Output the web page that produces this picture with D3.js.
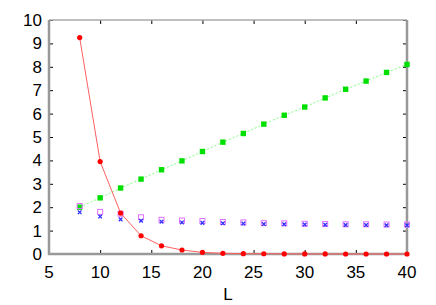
<!DOCTYPE html>
<html>
<head>
<meta charset="utf-8">
<script src="https://cdn.jsdelivr.net/npm/d3@7"></script>
<style>
  body { margin: 0; background: #fff; }
  text { font-family: "Liberation Sans", Arial, sans-serif; }
</style>
</head>
<body>
<svg id="chart" width="436" height="305"></svg>
<script>
// system sizes
const sizes = [8, 10, 12, 14, 16, 18, 20, 22, 24, 26, 28, 30, 32, 34, 36, 38, 40];
const redValues = [9.25, 3.95, 1.75, 0.78, 0.35, 0.17, 0.07, 0.03, 0.015, 0.01, 0.005, 0.003, 0.002, 0.001, 0.001, 0, 0];
const greenValues = [2.0, 2.4, 2.82, 3.2, 3.6, 3.98, 4.38, 4.78, 5.15, 5.55, 5.93, 6.28, 6.67, 7.04, 7.39, 7.76, 8.1];
const magentaValues = [2.05, 1.8, 1.72, 1.57, 1.46, 1.43, 1.41, 1.37, 1.35, 1.32, 1.31, 1.29, 1.28, 1.27, 1.27, 1.26, 1.26];
const blueValues = [1.78, 1.6, 1.48, 1.42, 1.38, 1.35, 1.33, 1.31, 1.3, 1.28, 1.27, 1.26, 1.25, 1.24, 1.24, 1.23, 1.23];
const xTicks = [5, 10, 15, 20, 25, 30, 35, 40];
const yTicks = [0, 1, 2, 3, 4, 5, 6, 7, 8, 9, 10];

const margin = { top: 20, right: 29, bottom: 51, left: 49 };
const width = 436 - margin.left - margin.right;
const height = 305 - margin.top - margin.bottom;

const svg = d3.select('#chart');
const chart = svg.append('g')
  .attr('transform', `translate(${margin.left}, ${margin.top})`);

const xScale = d3.scaleLinear().domain([5, 40]).range([0, width]);
const yScale = d3.scaleLinear().domain([0, 10]).range([height, 0]);

// ticks (inward, all four sides)
const tickLen = 4;
chart.append('g').attr('transform', `translate(0, ${height})`)
  .call(d3.axisBottom(xScale).tickValues(xTicks).tickSizeInner(-tickLen).tickSizeOuter(0).tickFormat(''))
  .call(g => g.select('.domain').remove());
chart.append('g')
  .call(d3.axisTop(xScale).tickValues(xTicks).tickSizeInner(-tickLen).tickSizeOuter(0).tickFormat(''))
  .call(g => g.select('.domain').remove());
chart.append('g')
  .call(d3.axisLeft(yScale).tickValues(yTicks).tickSizeInner(-tickLen).tickSizeOuter(0).tickFormat(''))
  .call(g => g.select('.domain').remove());
chart.append('g').attr('transform', `translate(${width}, 0)`)
  .call(d3.axisRight(yScale).tickValues(yTicks).tickSizeInner(-tickLen).tickSizeOuter(0).tickFormat(''))
  .call(g => g.select('.domain').remove());
chart.selectAll('.tick line').attr('stroke', '#000').attr('stroke-width', 1);

// tick labels
chart.append('g')
  .selectAll('text')
  .data(xTicks)
  .enter()
  .append('text')
  .attr('text-anchor', 'middle')
  .attr('x', d => xScale(d))
  .attr('y', height + 24)
  .style('font-size', '17px')
  .text(d => d);
chart.append('g')
  .selectAll('text')
  .data(yTicks)
  .enter()
  .append('text')
  .attr('text-anchor', 'end')
  .attr('x', -7)
  .attr('y', d => yScale(d) + 6)
  .style('font-size', '17px')
  .text(d => d);
chart.append('text')
  .attr('text-anchor', 'middle')
  .attr('x', width / 2)
  .attr('y', height + 46)
  .style('font-size', '17px')
  .text('L');

// border
chart.append('line').attr('x1', 0).attr('x2', width).attr('y1', 0).attr('y2', 0)
  .attr('stroke', '#aaa').attr('stroke-width', 1.5);
chart.append('path')
  .attr('d', `M0,0V${height}H${width}V0`)
  .attr('fill', 'none').attr('stroke', '#999').attr('stroke-width', 2.5);

const pts = vals => sizes.map((s, i) => [s, vals[i]]);

// green line + squares
chart.append('path')
  .datum(pts(greenValues))
  .attr('fill', 'none')
  .attr('stroke', '#80ff80')
  .attr('stroke-width', 1)
  .attr('stroke-dasharray', '2,2')
  .attr('d', d3.line().x(d => xScale(d[0])).y(d => yScale(d[1])));
chart.append('g')
  .selectAll('rect')
  .data(pts(greenValues))
  .enter()
  .append('rect')
  .attr('x', d => xScale(d[0]) - 2.7)
  .attr('y', d => yScale(d[1]) - 2.7)
  .attr('width', 5.4)
  .attr('height', 5.4)
  .attr('fill', '#00e000');

// magenta open squares
chart.append('g')
  .selectAll('rect')
  .data(pts(magentaValues))
  .enter()
  .append('rect')
  .attr('x', d => xScale(d[0]) - 2.5)
  .attr('y', d => yScale(d[1]) - 2.5)
  .attr('width', 5)
  .attr('height', 5)
  .attr('fill', 'none')
  .attr('stroke', '#e070ff')
  .attr('stroke-width', 1);

// blue crosses
chart.append('g')
  .selectAll('path')
  .data(pts(blueValues))
  .enter()
  .append('path')
  .attr('transform', d => `translate(${xScale(d[0])}, ${yScale(d[1])})`)
  .attr('d', 'M-1.8,-1.8L1.8,1.8M-1.8,1.8L1.8,-1.8')
  .attr('stroke', '#3030ff')
  .attr('stroke-width', 1.3);

// red line + dots
chart.append('path')
  .datum(pts(redValues))
  .attr('fill', 'none')
  .attr('stroke', '#ff6060')
  .attr('stroke-width', 1)
  .attr('d', d3.line().x(d => xScale(d[0])).y(d => yScale(d[1])));
chart.append('g')
  .selectAll('circle')
  .data(pts(redValues))
  .enter()
  .append('circle')
  .attr('cx', d => xScale(d[0]))
  .attr('cy', d => yScale(d[1]))
  .attr('r', 2.6)
  .attr('fill', '#ff0000');
</script>
</body>
</html>
